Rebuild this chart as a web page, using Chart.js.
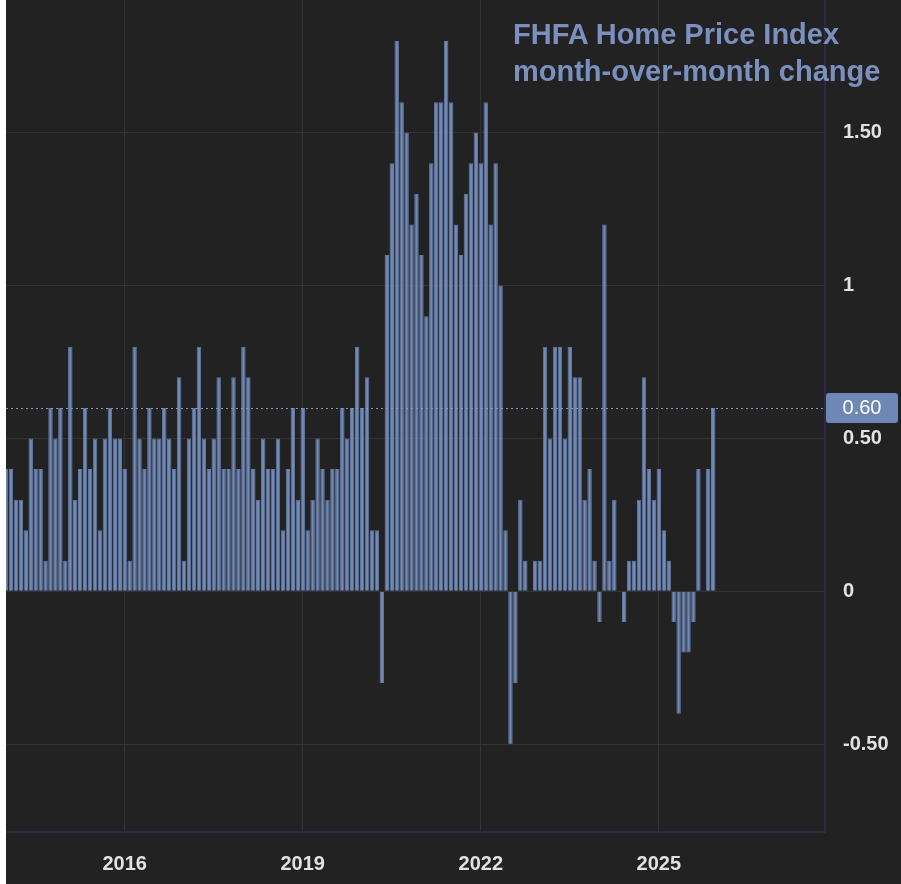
<!DOCTYPE html>
<html><head><meta charset="utf-8">
<script src="https://cdn.jsdelivr.net/npm/chart.js@4.4.1/dist/chart.umd.min.js"></script>
<style>
html,body{margin:0;padding:0;background:#ffffff;}
#wrap{position:absolute;left:6px;top:0;width:895px;height:884px;background:#222222;}
#c{position:absolute;left:0;top:0;}
#title{position:absolute;left:507px;top:16px;font:bold 29px/37px "Liberation Sans",Arial,sans-serif;color:#7b90be;white-space:nowrap;pointer-events:none;}
</style></head><body>
<div id="wrap"><canvas id="c" width="895" height="884"></canvas>
<div id="title">FHFA Home Price Index<br>month-over-month change</div></div>
<script>
// Month-over-month % change (Jan..Dec of each year)
const v2014 = [0.4, 0.4, 0.3, 0.3, 0.2, 0.5, 0.4, 0.4, 0.1, 0.6, 0.5, 0.6];
const v2015 = [0.1, 0.8, 0.3, 0.4, 0.6, 0.4, 0.5, 0.2, 0.5, 0.6, 0.5, 0.5];
const v2016 = [0.4, 0.1, 0.8, 0.5, 0.4, 0.6, 0.5, 0.5, 0.6, 0.5, 0.4, 0.7];
const v2017 = [0.1, 0.5, 0.6, 0.8, 0.5, 0.4, 0.5, 0.7, 0.4, 0.4, 0.7, 0.4];
const v2018 = [0.8, 0.7, 0.4, 0.3, 0.5, 0.4, 0.4, 0.5, 0.2, 0.4, 0.6, 0.3];
const v2019 = [0.6, 0.2, 0.3, 0.5, 0.4, 0.3, 0.4, 0.4, 0.6, 0.5, 0.6, 0.8];
const v2020 = [0.6, 0.7, 0.2, 0.2, -0.3, 1.1, 1.4, 1.8, 1.6, 1.5, 1.2, 1.3];
const v2021 = [1.1, 0.9, 1.4, 1.6, 1.6, 1.8, 1.6, 1.2, 1.1, 1.3, 1.4, 1.5];
const v2022 = [1.4, 1.6, 1.2, 1.4, 1.0, 0.2, -0.5, -0.3, 0.3, 0.1, 0.0, 0.1];
const v2023 = [0.1, 0.8, 0.5, 0.8, 0.8, 0.5, 0.8, 0.7, 0.7, 0.3, 0.4, 0.1];
const v2024 = [-0.1, 1.2, 0.1, 0.3, 0.0, -0.1, 0.1, 0.1, 0.3, 0.7, 0.4, 0.3];
const v2025 = [0.4, 0.2, 0.1, -0.1, -0.4, -0.2, -0.2, -0.1, 0.4, 0.0, 0.4, 0.6];

const years = [2014, 2015, 2016, 2017, 2018, 2019, 2020, 2021, 2022, 2023, 2024, 2025];
const yearValues = [v2014, v2015, v2016, v2017, v2018, v2019, v2020, v2021, v2022, v2023, v2024, v2025];

const xTickMonths = ['2016-01', '2019-01', '2022-01', '2025-01'];
const xTickLabels = ['2016', '2019', '2022', '2025'];
const yTickValues = [-0.5, 0, 0.5, 1, 1.5];
const yTickLabels = ['-0.50', '0', '0.50', '1', '1.50'];
const latestValue = 0.6;
const latestLabel = '0.60';
const xExtentMonths = 165.6;   // visible months span of the time axis
const yMin = -0.787, yMax = 1.934;

const months = [];
const values = [];
years.forEach((yr, k) => {
  yearValues[k].forEach((v, m) => {
    months.push(yr + '-' + String(m + 1).padStart(2, '0'));
    values.push(v);
  });
});
const xTickValues = xTickMonths.map(m => months.indexOf(m));
const points = values.map((v, i) => ({ x: i, y: v }));

const latestPlugin = {
  id: 'latest',
  afterDatasetsDraw(chart) {
    const { ctx, chartArea, scales } = chart;
    const py = Math.round(scales.y.getPixelForValue(latestValue)) + 0.5;
    ctx.save();
    ctx.strokeStyle = '#8299c6';
    ctx.lineWidth = 1;
    ctx.setLineDash([2, 3]);
    ctx.beginPath();
    ctx.moveTo(chartArea.left, py);
    ctx.lineTo(chartArea.right, py);
    ctx.stroke();
    ctx.restore();
  },
  afterDraw(chart) {
    const { ctx, chartArea, scales } = chart;
    const py = scales.y.getPixelForValue(latestValue);
    const x = chartArea.right + 1, w = 72, h = 30, y = py - h / 2;
    ctx.save();
    ctx.fillStyle = '#6f87b5';
    ctx.beginPath();
    ctx.roundRect(x, y, w, h, 3);
    ctx.fill();
    ctx.fillStyle = '#ffffff';
    ctx.font = '20px "Liberation Sans", Arial, sans-serif';
    ctx.textAlign = 'center';
    ctx.textBaseline = 'middle';
    ctx.fillText(latestLabel, x + w / 2, py + 1);
    ctx.restore();
  }
};

new Chart(document.getElementById('c'), {
  type: 'bar',
  data: {
    datasets: [{
      label: 'FHFA HPI m/m',
      data: points,
      backgroundColor: '#7189b6',
      borderColor: '#647aa3',
      borderWidth: 1,
      barPercentage: 0.9,
      categoryPercentage: 1.0
    }]
  },
  options: {
    responsive: false,
    animation: false,
    layout: { padding: 0 },
    plugins: { legend: { display: false }, tooltip: { enabled: false }, title: { display: false } },
    scales: {
      x: {
        type: 'linear',
        min: 0,
        max: xExtentMonths,
        offset: false,
        afterBuildTicks(scale) { scale.ticks = xTickValues.map(v => ({ value: v })); },
        afterFit(scale) { scale.height = 52; scale.paddingLeft = 0; scale.paddingRight = 0; },
        ticks: {
          autoSkip: false,
          maxRotation: 0,
          padding: 20,
          color: '#e2e2e2',
          font: { family: '"Liberation Sans", Arial, sans-serif', size: 20, weight: 'bold' },
          callback(value) { const k = xTickValues.indexOf(value); return k >= 0 ? xTickLabels[k] : ''; }
        },
        grid: { color: '#333333', lineWidth: 1, drawTicks: false, offset: false },
        border: { display: true, color: '#2c2a44', width: 2 }
      },
      y: {
        position: 'right',
        min: yMin,
        max: yMax,
        afterBuildTicks(scale) { scale.ticks = yTickValues.map(v => ({ value: v })); },
        afterFit(scale) { scale.width = 76; scale.paddingTop = 0; scale.paddingBottom = 0; },
        ticks: {
          padding: 18,
          color: '#e2e2e2',
          font: { family: '"Liberation Sans", Arial, sans-serif', size: 20, weight: 'bold' },
          callback(value) { const k = yTickValues.indexOf(value); return k >= 0 ? yTickLabels[k] : ''; }
        },
        grid: { color: '#333333', lineWidth: 1, drawTicks: false },
        border: { display: true, color: '#2c2a44', width: 2 }
      }
    }
  },
  plugins: [latestPlugin]
});
</script>
</body></html>
